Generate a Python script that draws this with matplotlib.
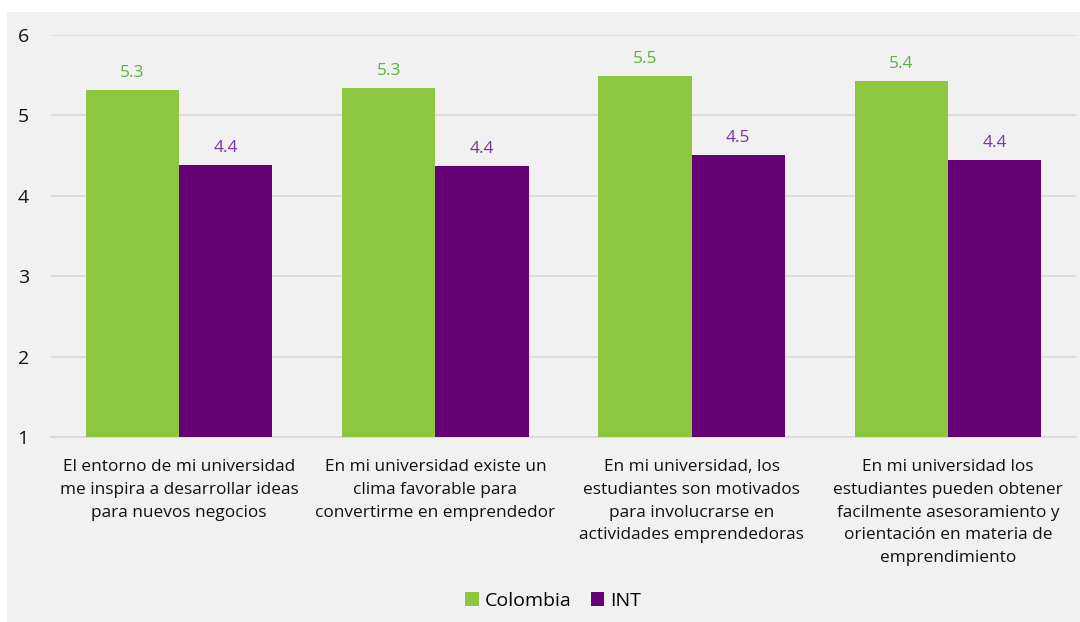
import matplotlib
matplotlib.use("Agg")
import matplotlib.pyplot as plt
import numpy as np

plt.rcParams['font.family'] = ['Open Sans', 'DejaVu Sans']

categories = [
    "El entorno de mi universidad\nme inspira a desarrollar ideas\npara nuevos negocios",
    "En mi universidad existe un\nclima favorable para\nconvertirme en emprendedor",
    "En mi universidad, los\nestudiantes son motivados\npara involucrarse en\nactividades emprendedoras",
    "En mi universidad los\nestudiantes pueden obtener\nfacilmente asesoramiento y\norientación en materia de\nemprendimiento",
]
colombia = [5.32, 5.34, 5.49, 5.43]
internacional = [4.38, 4.37, 4.51, 4.44]
series_names = ["Colombia", "INT"]
yticks = [1, 2, 3, 4, 5, 6]

green = "#8dc63f"
purple = "#660077"
green_txt = "#5bb43b"
purple_txt = "#7a35a8"
bg = "#f1f1f1"

fig = plt.figure(figsize=(10.8, 6.22), dpi=100)
fig.patch.set_facecolor("white")
# grey panel behind the chart
panel = plt.Rectangle((7 / 1080, 0), 1 - 7 / 1080, 1 - 12 / 622,
                      transform=fig.transFigure, facecolor=bg,
                      edgecolor="none", zorder=-10)
fig.patches.append(panel)

ax = fig.add_axes([51 / 1080, 1 - 437 / 622, (1076 - 51) / 1080, (437 - 35) / 622])
ax.set_facecolor(bg)
ax.set_zorder(1)

x = np.arange(len(categories))
w = 0.364
b1 = ax.bar(x - w / 2, [v - 1 for v in colombia], w, bottom=1, color=green,
            label=series_names[0], zorder=3)
b2 = ax.bar(x + w / 2, [v - 1 for v in internacional], w, bottom=1, color=purple,
            label=series_names[1], zorder=3)

for xi, v in zip(x - w / 2, colombia):
    ax.annotate(f"{v:.1f}", (xi, v), xytext=(0, 6.5), textcoords="offset points",
                ha="center", va="bottom", color=green_txt, fontsize=12.5)
for xi, v in zip(x + w / 2, internacional):
    ax.annotate(f"{v:.1f}", (xi, v), xytext=(0, 6.5), textcoords="offset points",
                ha="center", va="bottom", color=purple_txt, fontsize=12.5)

ax.set_xlim(-0.5, len(categories) - 0.5)
ax.set_ylim(1, 6)
ax.set_yticks(yticks)
ax.set_yticklabels([str(t) for t in yticks], fontsize=14, color="#111111")
ax.yaxis.grid(True, color="#d9d9d9", linewidth=1.2, zorder=0)
ax.set_axisbelow(True)
ax.tick_params(axis="y", length=0, pad=24)
ax.tick_params(axis="x", length=0, pad=16)
ax.set_xticks(x)
ax.set_xticklabels(categories, fontsize=12.4, color="#111111", linespacing=1.56,
                   va="top")
for s in ["top", "right", "left"]:
    ax.spines[s].set_visible(False)
ax.spines["bottom"].set_color("#d9d9d9")
ax.spines["bottom"].set_linewidth(1.2)
for lbl in ax.get_yticklabels():
    lbl.set_horizontalalignment("left")

fig.legend(handles=[b1, b2], labels=series_names, loc="center",
           bbox_to_anchor=(553 / 1080, 1 - 601 / 622), ncol=2, frameon=False,
           fontsize=14, handlelength=0.7, handleheight=0.7, handletextpad=0.3,
           columnspacing=1.0)

fig.savefig("out.png", dpi=100, facecolor=fig.get_facecolor())
